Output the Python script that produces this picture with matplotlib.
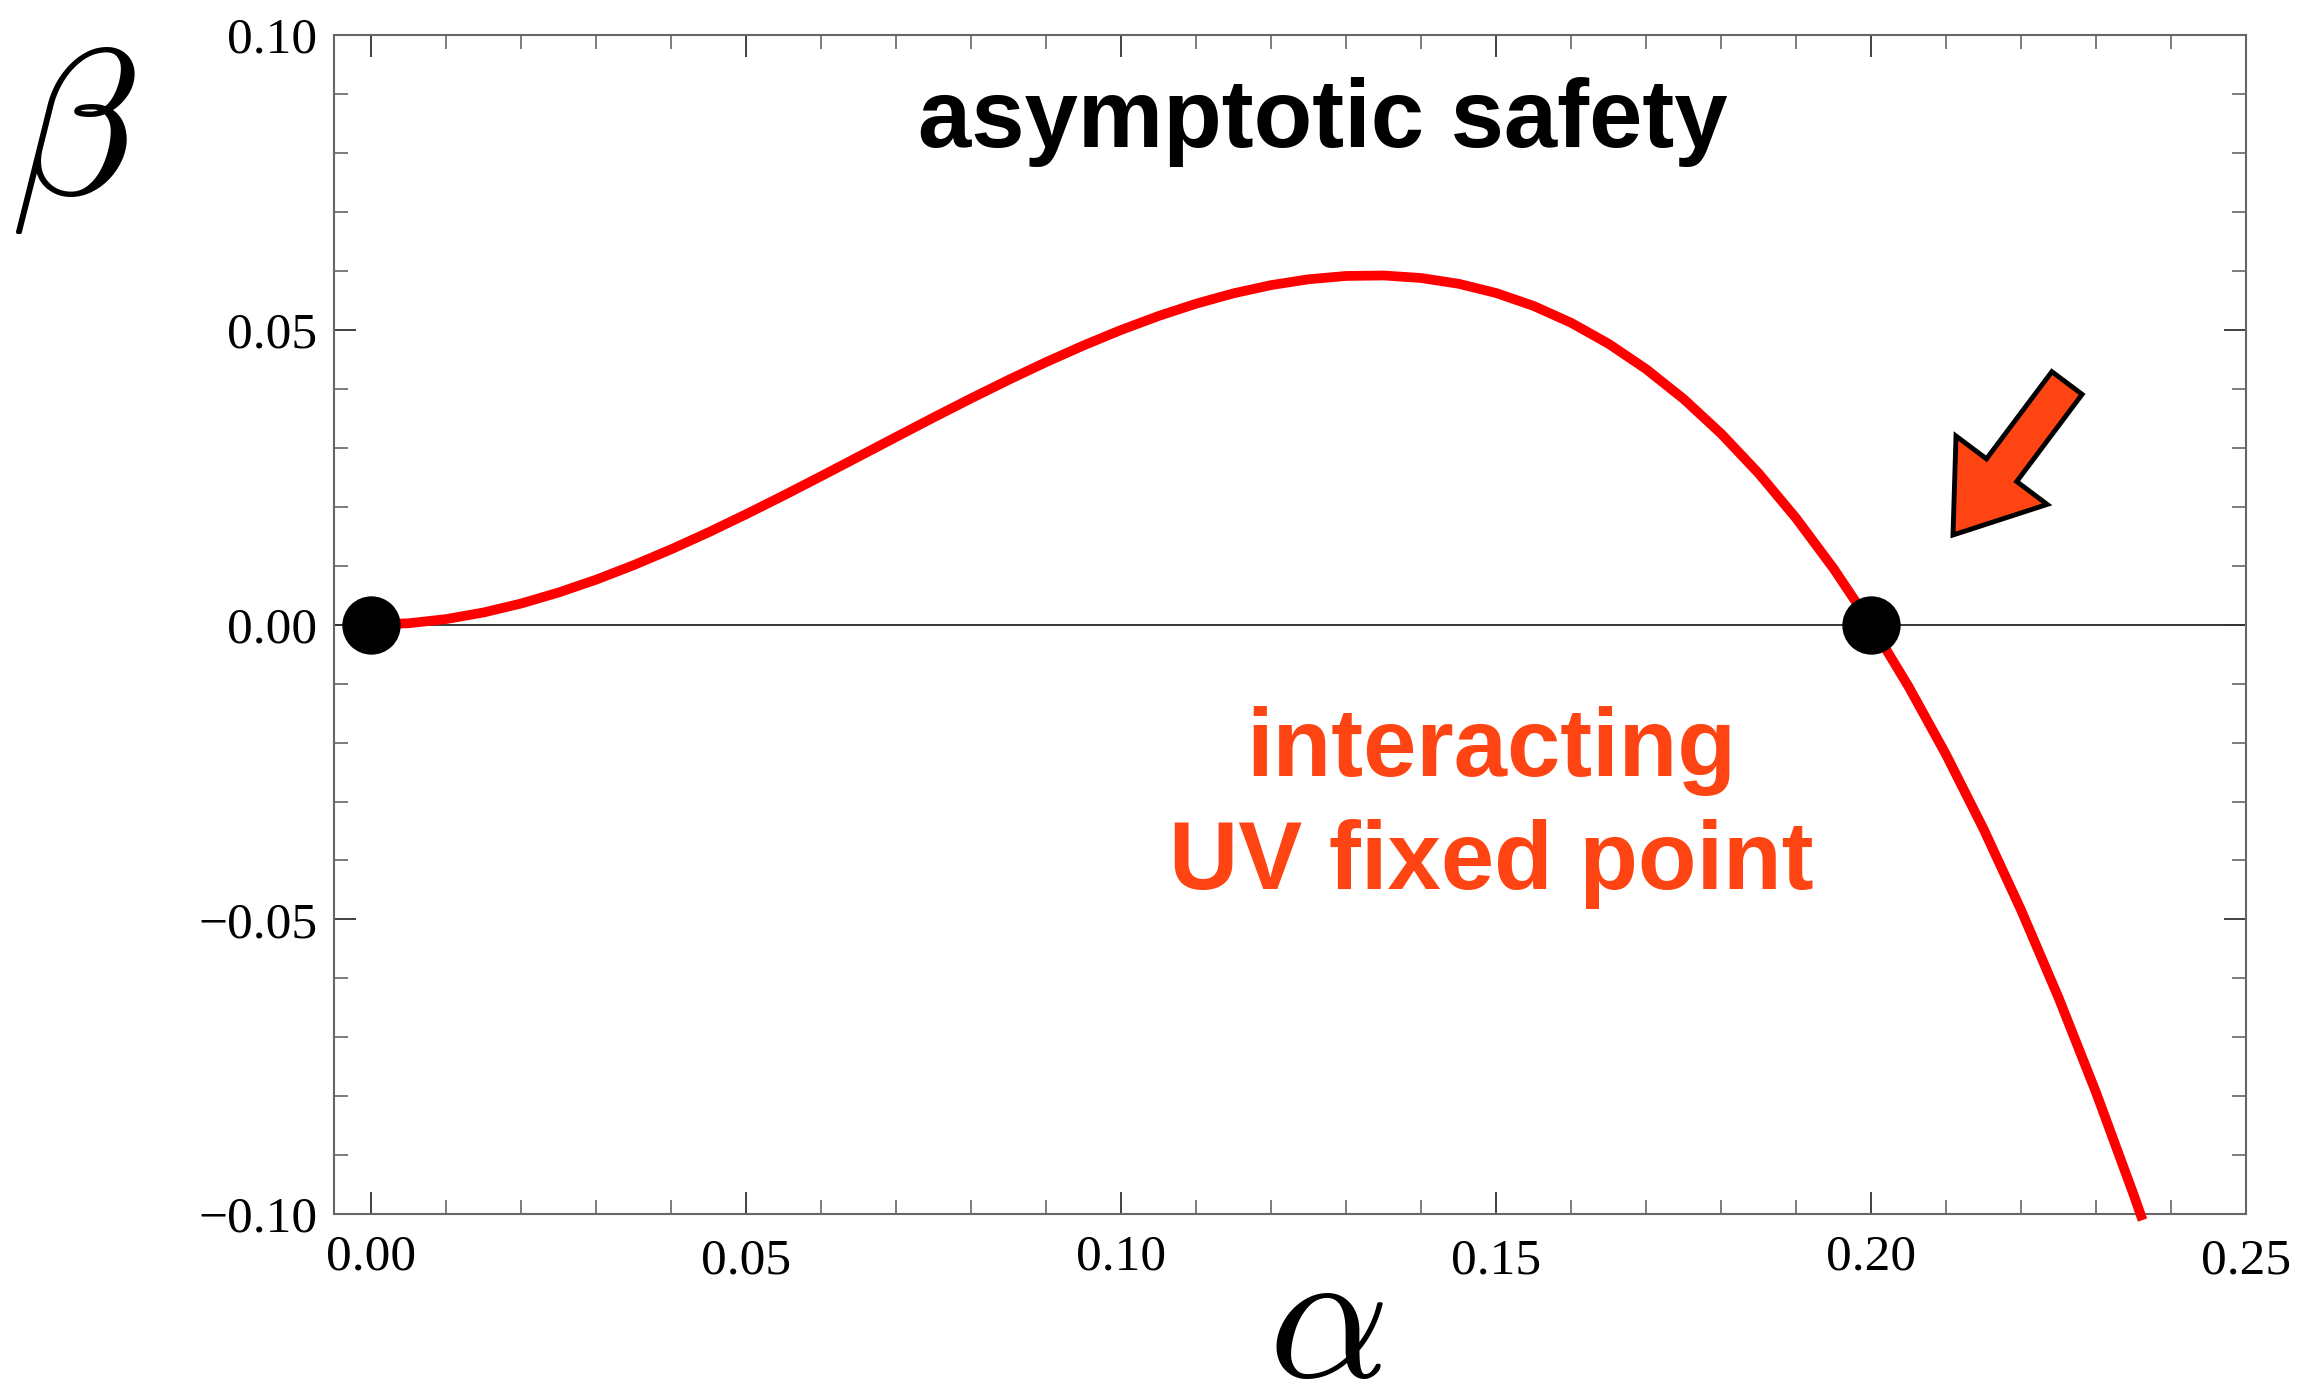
import matplotlib
matplotlib.use("Agg")
import matplotlib.pyplot as plt
import matplotlib.patches as mpatches
from matplotlib.ticker import MultipleLocator

plt.rcParams['mathtext.fontset'] = 'cm'

alpha = [0.000, 0.005, 0.010, 0.015, 0.020, 0.025, 0.030, 0.035, 0.040, 0.045,
         0.050, 0.055, 0.060, 0.065, 0.070, 0.075, 0.080, 0.085, 0.090, 0.095,
         0.100, 0.105, 0.110, 0.115, 0.120, 0.125, 0.130, 0.135, 0.140, 0.145,
         0.150, 0.155, 0.160, 0.165, 0.170, 0.175, 0.180, 0.185, 0.190, 0.195,
         0.200, 0.205, 0.210, 0.215, 0.220, 0.225, 0.230, 0.235, 0.2362]
beta = [0.00000, 0.00024, 0.00095, 0.00208, 0.00360, 0.00547, 0.00765, 0.01011,
        0.01280, 0.01569, 0.01875, 0.02193, 0.02520, 0.02852, 0.03185, 0.03516,
        0.03840, 0.04154, 0.04455, 0.04738, 0.05000, 0.05237, 0.05445, 0.05621,
        0.05760, 0.05859, 0.05915, 0.05923, 0.05880, 0.05782, 0.05625, 0.05406,
        0.05120, 0.04764, 0.04335, 0.03828, 0.03240, 0.02567, 0.01805, 0.00951,
        0.00000, -0.01051, -0.02205, -0.03467, -0.04840, -0.06328, -0.07935,
        -0.09664, -0.10100]

# fixed points: Gaussian at the origin, interacting one at alpha = 0.2
fp_alpha = [0.0, 0.2]
fp_beta = [0.0, 0.0]

x_ticks = [0.00, 0.05, 0.10, 0.15, 0.20, 0.25]
x_labels = ["0.00", "0.05", "0.10", "0.15", "0.20", "0.25"]
y_ticks = [-0.10, -0.05, 0.00, 0.05, 0.10]
y_labels = ["\u22120.10", "\u22120.05", "0.00", "0.05", "0.10"]

orange = '#FF4414'

fig = plt.figure(figsize=(23.05, 13.94), dpi=100)
ax = fig.add_axes([0.1449, 0.1290, 0.8295, 0.8458])

ax.axhline(0, color='black', lw=1.1, zorder=1)
ax.plot(alpha, beta, color='#FF0000', lw=7, solid_capstyle='butt',
        zorder=3, clip_on=False)
ax.plot(fp_alpha, fp_beta, 'o', color='black', ms=41, zorder=5, clip_on=False)

ax.set_xlim(-0.005, 0.25)
ax.set_ylim(-0.10, 0.10)

ax.set_xticks(x_ticks)
ax.set_xticklabels(x_labels)
ax.set_yticks(y_ticks)
ax.set_yticklabels(y_labels)
ax.xaxis.set_minor_locator(MultipleLocator(0.01))
ax.yaxis.set_minor_locator(MultipleLocator(0.01))

ax.tick_params(which='both', direction='in', top=True, right=True)
ax.tick_params(which='major', length=16, width=1.3, color='#333333')
ax.tick_params(which='minor', length=10, width=1.2, color='#666666')
ax.tick_params(axis='x', which='major', pad=14)
ax.tick_params(axis='y', which='major', pad=12)

for lbl in ax.get_xticklabels() + ax.get_yticklabels():
    lbl.set_fontfamily('Liberation Serif')
    lbl.set_fontsize(37)

# Mathematica-style staggered labels along the bottom
for i, lbl in enumerate(ax.get_xticklabels()):
    if i % 2 == 1:
        lbl.set_y(-0.004)

for sp in ax.spines.values():
    sp.set_color('#666666')
    sp.set_linewidth(1.5)

fig.text(0.574, 0.8945, "asymptotic safety", ha='center', va='baseline',
         fontsize=69, fontweight='bold', family='Liberation Sans', color='black')
fig.text(0.6469, 0.4433, "interacting", ha='center', va='baseline',
         fontsize=69, fontweight='bold', family='Liberation Sans', color=orange)
fig.text(0.6469, 0.3623, "UV fixed point", ha='center', va='baseline',
         fontsize=69, fontweight='bold', family='Liberation Sans', color=orange)

# axis symbols
fig.text(1326 / 2305, 0.012, r'$\alpha$', ha='center', va='baseline', fontsize=136)
fig.text(73 / 2305, 1 - 136 / 1394, r'$\beta$', ha='center', va='center', fontsize=150)

# block arrow pointing at the interacting fixed point (inches from lower left)
arrow = mpatches.FancyArrow(20.67, 10.11, -1.14, -1.52, width=0.378,
                            head_width=1.14, head_length=0.81,
                            length_includes_head=True, facecolor=orange,
                            edgecolor='black', linewidth=3.5,
                            transform=fig.dpi_scale_trans)
fig.add_artist(arrow)

fig.savefig('out.png', dpi=100)
